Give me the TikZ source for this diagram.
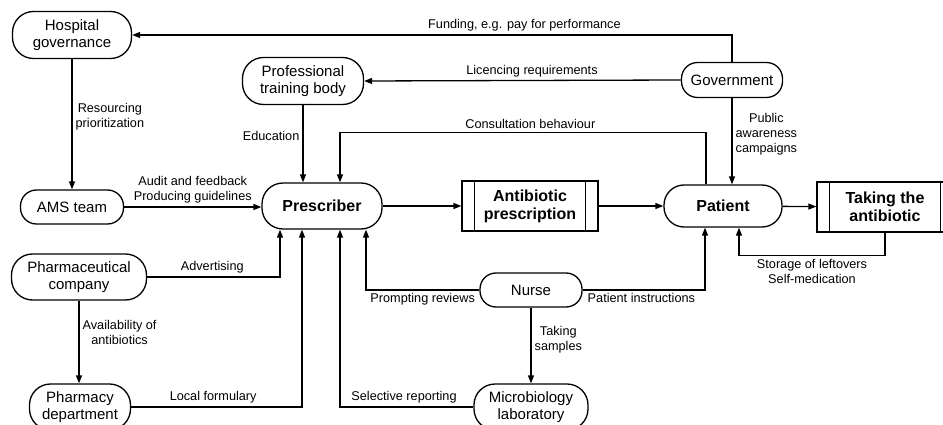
\documentclass[tikz,border=0pt]{standalone}
\usepackage{fontspec}
\setmainfont{Liberation Sans}
\usetikzlibrary{arrows.meta}
\begin{document}
\begin{tikzpicture}[x=1pt,y=-1pt,line width=1.3pt,>={Triangle[length=8pt,width=6pt]}]
\tikzstyle{actor}=[draw,rounded corners=16pt,align=center,inner sep=2pt,font=\fontsize{15}{17}\selectfont]
\tikzstyle{tall}=[rounded corners=21pt]
\tikzstyle{key}=[actor,font=\fontsize{16}{18}\selectfont\bfseries]
\tikzstyle{process}=[draw,align=center,minimum width=136pt,minimum height=50pt,font=\fontsize{16}{18}\selectfont\bfseries]
\tikzstyle{lab}=[align=center,inner sep=3pt,font=\fontsize{12.7}{15}\selectfont]

\useasboundingbox (0,0) rectangle (943,425);
\clip (0,0) rectangle (943,425);

\node[actor,tall,minimum width=119pt,minimum height=47pt] (hosp) at (72,35) {Hospital\\governance};
\node[actor,tall,minimum width=121pt,minimum height=47pt] (train) at (303,81) {Professional\\training body};
\node[actor,minimum width=101pt,minimum height=35pt] (gov) at (732,80) {Government};
\node[actor,minimum width=103pt,minimum height=34pt] (ams) at (72,207) {AMS team};
\node[key,tall,minimum width=120pt,minimum height=46pt] (pre) at (322,206) {Prescriber};
\node[process] (rx) at (530,206) {Antibiotic\\prescription};
\node[key,rounded corners=20pt,minimum width=118pt,minimum height=42pt] (pat) at (723,206) {Patient};
\node[process] (take) at (885,207) {Taking the\\antibiotic};
\node[actor,tall,minimum width=135pt,minimum height=46pt] (pharma) at (79,277) {Pharmaceutical\\company};
\node[actor,minimum width=102pt,minimum height=34pt] (nurse) at (531,290) {Nurse};
\node[actor,tall,minimum width=101pt,minimum height=46pt] (pharmacy) at (80,407) {Pharmacy\\department};
\node[actor,tall,minimum width=114pt,minimum height=46pt] (micro) at (531,407) {Microbiology\\laboratory};

\foreach \n in {rx,take}{
	\draw ([xshift=13pt]\n.north west) -- ([xshift=13pt]\n.south west);
	\draw ([xshift=-13pt]\n.north east) -- ([xshift=-13pt]\n.south east);
}

\draw[->] (gov.north) |- node[lab,pos=0.673,above] {Funding, e.g. pay for performance} (hosp.east);
\draw[->] (gov.west) -- node[lab,pos=0.47,above] {Licencing requirements} (train.east);
\draw[->] (train.south) -- node[lab,pos=0.4,left] {Education} (train.south |- pre.north);
\draw[->] ([xshift=-17pt]pat.north) -- ++(0,-52) -| node[lab,pos=0.24,above] {Consultation behaviour} ([xshift=18pt]pre.north);
\draw[->] (gov.south) -- node[lab,pos=0.42,right] {Public\\awareness\\campaigns} (gov.south |- pat.north);
\draw[->] (hosp.south) -- node[lab,pos=0.44,right] {Resourcing\\prioritization} (ams.north);
\draw[->] (ams.east) -- node[lab,above] {Audit and feedback\\Producing guidelines} (ams.east -| pre.west);
\draw[->] (pre) -- (rx);
\draw[->] (rx) -- (pat);
\draw[->] (pat) -- (take);
\draw[->] (take.south) -- ++(0,23) -| node[lab,pos=0.25,below] {Storage of leftovers\\Self-medication} ([xshift=16pt]pat.south);
\draw[->] (pharma.east) -| node[lab,pos=0.245,above] {Advertising} ([xshift=-42pt]pre.south);
\draw[->] (pharma.south) -- node[lab,pos=0.39,right] {Availability of\\antibiotics} (pharma.south |- pharmacy.north);
\draw[->] (pharmacy.east) -| node[lab,pos=0.24,above] {Local formulary} ([xshift=-20pt]pre.south);
\draw[->] (micro.west) -| node[lab,pos=0.26,above] {Selective reporting} ([xshift=18pt]pre.south);
\draw[->] (nurse.west) -| node[lab,pos=0.25,below] {Prompting reviews} ([xshift=44pt]pre.south);
\draw[->] (nurse.east) -| node[lab,pos=0.24,below] {Patient instructions} ([xshift=-18pt]pat.south);
\draw[->] (nurse.south) -- node[lab,pos=0.42,right] {Taking\\samples} (micro.north);
\end{tikzpicture}
\end{document}
